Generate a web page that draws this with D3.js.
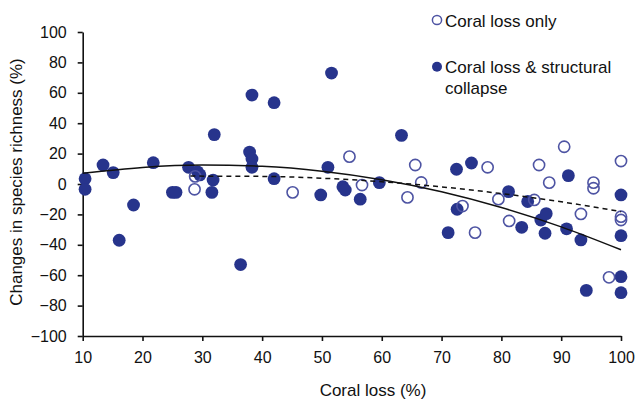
<!DOCTYPE html>
<html>
<head>
<meta charset="utf-8">
<script src="https://cdn.jsdelivr.net/npm/d3@7"></script>
<style>
  body { margin: 0; background: #fff; }
  svg text { font-family: Arial, "Liberation Sans", sans-serif; fill: #111; }
</style>
</head>
<body>
<svg id="chart" width="637" height="399"></svg>
<script>
  /*
   * Data
   */

  // Sites with coral loss and structural collapse (filled markers)
  var collapseX = [10.4, 10.4, 13.4, 15.1, 16.1, 18.5, 21.8, 25.0, 25.6, 27.7,
    29.2, 29.6, 31.6, 31.8, 32.0, 36.4, 37.9, 38.3, 38.3, 38.3, 42.0, 42.0,
    49.8, 51.0, 51.6, 53.5, 53.9, 56.4, 59.6, 63.3, 71.1, 72.5, 72.6, 75.0,
    81.2, 83.4, 84.4, 86.6, 87.3, 87.5, 90.9, 91.2, 93.3, 94.2,
    100, 100, 100, 100];
  var collapseY = [3.5, -3.5, 12.5, 7.5, -37, -13.8, 14, -5.5, -5.5, 11,
    8, 6, -5.5, 2.6, 32.5, -53, 21, 16.4, 11, 58.5, 53.5, 3.5,
    -7.2, 11, 73, -1.8, -4, -10, 0.9, 32, -32, 9.7, -16.6, 13.8,
    -5, -28.5, -11.5, -23.7, -32.4, -19.5, -29.5, 5.5, -36.8, -70,
    -7.2, -34, -61, -71.5];

  // Sites with coral loss only (open markers)
  var lossOnlyX = [28.8, 28.7, 45.1, 54.6, 56.7, 64.3, 65.6, 66.6, 73.5, 75.6,
    77.7, 79.5, 81.3, 85.5, 86.3, 88.0, 90.5, 93.3, 95.4, 95.4, 98.0,
    100, 100, 100];
  var lossOnlyY = [5, -3.5, -5.5, 18, -0.7, -8.8, 12.5, 1, -14.5, -32,
    11, -10, -24.3, -10.5, 12.5, 0.9, 24.5, -19.7, 0.9, -2.8, -61.4,
    15.1, -21.5, -23.7];

  // Trend lines (solid = collapse, dashed = loss only), read at points
  var solidX = [10, 20, 30, 40, 50, 60, 70, 80, 90, 100];
  var solidY = [7.0, 10.9, 12.5, 11.6, 8.4, 2.8, -5.1, -15.5, -28.2, -43.3];
  var dashX = [28, 40, 50, 60, 70, 80, 90, 100];
  var dashY = [5.2, 5.0, 3.8, 1.5, -1.9, -6.3, -11.7, -18.2];

  // Axis ticks
  var xTicks = [10, 20, 30, 40, 50, 60, 70, 80, 90, 100];
  var yTicks = [-100, -80, -60, -40, -20, 0, 20, 40, 60, 80, 100];

  // Legend labels
  var legendLabels = [["Coral loss only"], ["Coral loss & structural", "collapse"]];

  /*
   * Layout and colours
   */
  var FILL_COL = "#27348c";
  var OPEN_COL = "#4e54a3";

  var svg = d3.select("#chart");

  var x = d3.scaleLinear().domain([10, 100]).range([82.7, 621]);
  var y = d3.scaleLinear().domain([-100, 100]).range([336, 32]);

  function zip(xs, ys) {
    return xs.map(function (v, i) { return [v, ys[i]]; });
  }

  // axes
  var xAxis = svg.append("g")
    .attr("transform", "translate(0," + y(-100) + ")")
    .call(d3.axisBottom(x).tickValues(xTicks).tickSize(5).tickPadding(11)
      .tickFormat(d3.format("d")).tickSizeOuter(0));
  var yAxis = svg.append("g")
    .attr("transform", "translate(" + x(10) + ",0)")
    .call(d3.axisLeft(y).tickValues(yTicks).tickSize(5).tickPadding(11)
      .tickFormat(d3.format("d")).tickSizeOuter(0));

  [xAxis, yAxis].forEach(function (g) {
    g.select(".domain").attr("stroke", "#111").attr("stroke-width", 1.6);
    g.selectAll(".tick line").attr("stroke", "#111").attr("stroke-width", 1.6);
    g.selectAll(".tick text")
      .style("font-size", "16px")
      .style("font-family", "Arial, 'Liberation Sans', sans-serif")
      .attr("fill", "#111");
  });

  // axis titles
  svg.append("text")
    .attr("x", 373)
    .attr("y", 396)
    .style("text-anchor", "middle")
    .style("font-size", "17px")
    .text("Coral loss (%)");

  svg.append("text")
    .attr("transform", "translate(22,182) rotate(-90)")
    .style("text-anchor", "middle")
    .style("font-size", "17px")
    .text("Changes in species richness (%)");

  // points
  svg.append("g").selectAll("circle")
      .data(zip(collapseX, collapseY))
    .enter().append("circle")
      .attr("cx", d => x(d[0]))
      .attr("cy", d => y(d[1]))
      .attr("r", 6.4)
      .attr("fill", FILL_COL);

  svg.append("g").selectAll("circle")
      .data(zip(lossOnlyX, lossOnlyY))
    .enter().append("circle")
      .attr("cx", d => x(d[0]))
      .attr("cy", d => y(d[1]))
      .attr("r", 5.6)
      .attr("fill", "none")
      .attr("stroke", OPEN_COL)
      .attr("stroke-width", 1.6);

  // trend lines
  var line = d3.line()
    .x(d => x(d[0]))
    .y(d => y(d[1]))
    .curve(d3.curveMonotoneX);

  svg.append("path")
    .datum(zip(solidX, solidY))
    .attr("d", line)
    .attr("fill", "none")
    .attr("stroke", "#111")
    .attr("stroke-width", 1.5);

  svg.append("path")
    .datum(zip(dashX, dashY))
    .attr("d", line)
    .attr("fill", "none")
    .attr("stroke", "#111")
    .attr("stroke-width", 1.5)
    .attr("stroke-dasharray", "5,4");

  // legend
  var legend = svg.append("g").attr("transform", "translate(437,0)");
  legend.append("circle")
    .attr("cx", 0).attr("cy", 20).attr("r", 4.6)
    .attr("fill", "none").attr("stroke", OPEN_COL).attr("stroke-width", 1.5);
  legend.append("circle")
    .attr("cx", 0).attr("cy", 66.7).attr("r", 5)
    .attr("fill", FILL_COL);

  var legendY = [27, 73];
  legendLabels.forEach(function (lines, i) {
    var t = legend.append("text")
      .attr("x", 8)
      .attr("y", legendY[i])
      .style("font-size", "17px");
    lines.forEach(function (s, j) {
      t.append("tspan")
        .attr("x", 8)
        .attr("dy", j == 0 ? 0 : 21)
        .text(s);
    });
  });
</script>
</body>
</html>
